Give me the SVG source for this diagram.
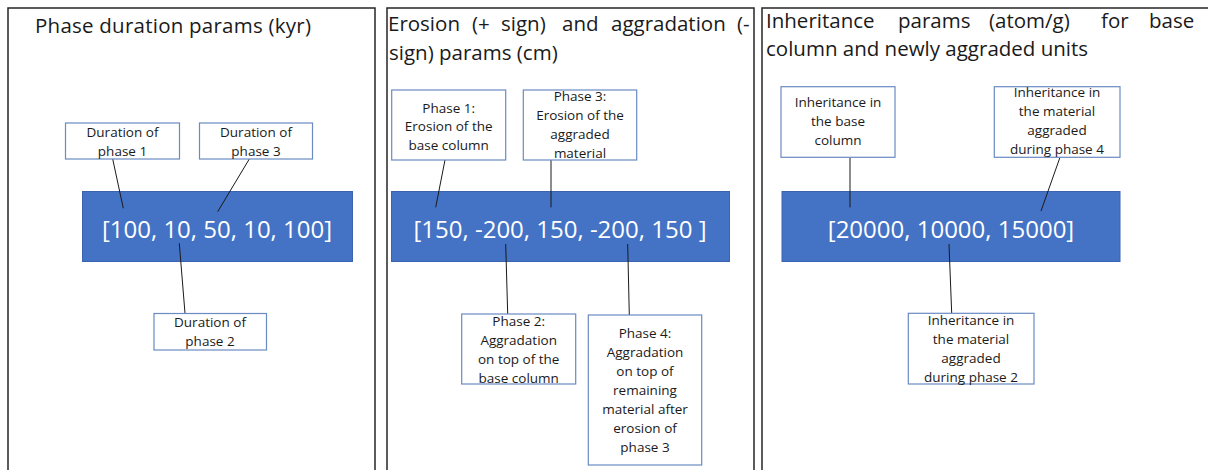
<svg xmlns="http://www.w3.org/2000/svg" width="1208" height="470" viewBox="0 0 1208 470">
<style>
.panel{fill:none;stroke:#262626;stroke-width:1.5}
.bar{fill:#4472C4;stroke:#3A64B0;stroke-width:1}
.bartxt{fill:#ffffff;font-family:"Open Sans","Liberation Sans",sans-serif;font-size:24px;text-anchor:middle}
.lbl{fill:#ffffff;stroke:#6A8AC4;stroke-width:1.2}
.lt{fill:#1a1a1a;font-family:"Open Sans","Liberation Sans",sans-serif;font-size:13.5px;text-anchor:middle}
.title{fill:#1a1a1a;font-family:"Open Sans","Liberation Sans",sans-serif;font-size:20.5px}
.conn line{stroke:#1a1a1a;stroke-width:1}
</style>
<rect width="1208" height="470" fill="#ffffff"/>
<g id="panel1">
<path class="panel" d="M8,472 V8 H375 V472"/>
<text class="title" x="35" y="33" textLength="276" lengthAdjust="spacing">Phase duration params (kyr)</text>
</g>
<g id="panel2">
<path class="panel" d="M387,472 V8 H754 V472"/>
<text class="title" y="31"><tspan x="388">Erosion</tspan><tspan x="472">(+</tspan><tspan x="501">sign)</tspan><tspan x="562">and</tspan><tspan x="611">aggradation</tspan><tspan x="737">(-</tspan></text>
<text class="title" x="389" y="60">sign) params (cm)</text>
</g>
<g id="panel3">
<path class="panel" d="M762,472 V8 H1210"/>
<text class="title" y="28"><tspan x="766">Inheritance</tspan><tspan x="898">params</tspan><tspan x="989">(atom/g)</tspan><tspan x="1101">for</tspan><tspan x="1149">base</tspan></text>
<text class="title" x="766" y="56">column and newly aggraded units</text>
</g>
<g id="bar1"><rect class="bar" x="82.5" y="191.5" width="270" height="70"/><text class="bartxt" x="217" y="237.5">[100, 10, 50, 10, 100]</text></g>
<g id="bar2"><rect class="bar" x="391.5" y="191.5" width="338" height="70"/><text class="bartxt" x="560" y="237.5">[150, -200, 150, -200, 150 ]</text></g>
<g id="bar3"><rect class="bar" x="782" y="191.5" width="338" height="70"/><text class="bartxt" x="951" y="237.5">[20000, 10000, 15000]</text></g>
<g class="conn" id="connectors">
<line x1="112.7" y1="159" x2="123.3" y2="208.3"/>
<line x1="249.3" y1="159" x2="217.7" y2="211.7"/>
<line x1="179.3" y1="243.3" x2="185" y2="313.3"/>
<line x1="445" y1="160" x2="435.7" y2="207.3"/>
<line x1="551" y1="160" x2="551" y2="207.3"/>
<line x1="505.7" y1="244" x2="507.7" y2="314"/>
<line x1="627.7" y1="244" x2="629.3" y2="315"/>
<line x1="850" y1="157.3" x2="850" y2="207.3"/>
<line x1="1060" y1="157.3" x2="1041" y2="211"/>
<line x1="949" y1="244" x2="951.7" y2="313.3"/>
</g>
<g id="dur1"><rect class="lbl" x="65.5" y="123" width="114" height="36"/><text class="lt"><tspan x="122.5" y="136.5">Duration of</tspan><tspan x="122.5" y="155.5">phase 1</tspan></text></g>
<g id="dur3"><rect class="lbl" x="199.5" y="123" width="113" height="36"/><text class="lt"><tspan x="256" y="136.5">Duration of</tspan><tspan x="256" y="155.5">phase 3</tspan></text></g>
<g id="dur2"><rect class="lbl" x="154" y="313.5" width="112.5" height="36.5"/><text class="lt"><tspan x="210" y="327">Duration of</tspan><tspan x="210" y="346">phase 2</tspan></text></g>
<g id="ero1"><rect class="lbl" x="391.7" y="90" width="114" height="70"/><text class="lt"><tspan x="448.7" y="112.5">Phase 1:</tspan><tspan x="448.7" y="131">Erosion of the</tspan><tspan x="448.7" y="149.5">base column</tspan></text></g>
<g id="ero3"><rect class="lbl" x="523.3" y="90" width="113.4" height="70"/><text class="lt"><tspan x="580" y="101">Phase 3:</tspan><tspan x="580" y="120">Erosion of the</tspan><tspan x="580" y="139">aggraded</tspan><tspan x="580" y="158">material</tspan></text></g>
<g id="agg2"><rect class="lbl" x="461.7" y="314" width="114" height="70"/><text class="lt"><tspan x="518.7" y="326">Phase 2:</tspan><tspan x="518.7" y="345">Aggradation</tspan><tspan x="518.7" y="364">on top of the</tspan><tspan x="518.7" y="382.5">base column</tspan></text></g>
<g id="agg4"><rect class="lbl" x="588.3" y="315" width="113.4" height="150"/><text class="lt"><tspan x="645" y="338">Phase 4:</tspan><tspan x="645" y="357">Aggradation</tspan><tspan x="645" y="376">on top of</tspan><tspan x="645" y="395">remaining</tspan><tspan x="645" y="414">material after</tspan><tspan x="645" y="433">erosion of</tspan><tspan x="645" y="452">phase 3</tspan></text></g>
<g id="inh-base"><rect class="lbl" x="781" y="86.7" width="114" height="70.6"/><text class="lt"><tspan x="838" y="107">Inheritance in</tspan><tspan x="838" y="126">the base</tspan><tspan x="838" y="145">column</tspan></text></g>
<g id="inh-p4"><rect class="lbl" x="994.3" y="86.7" width="125.7" height="70.6"/><text class="lt"><tspan x="1057" y="97">Inheritance in</tspan><tspan x="1057" y="116">the material</tspan><tspan x="1057" y="135">aggraded</tspan><tspan x="1057" y="154">during phase 4</tspan></text></g>
<g id="inh-p2"><rect class="lbl" x="908.3" y="313.3" width="125.7" height="70.7"/><text class="lt"><tspan x="971" y="324.5">Inheritance in</tspan><tspan x="971" y="343.5">the material</tspan><tspan x="971" y="362.5">aggraded</tspan><tspan x="971" y="381.5">during phase 2</tspan></text></g>
</svg>
